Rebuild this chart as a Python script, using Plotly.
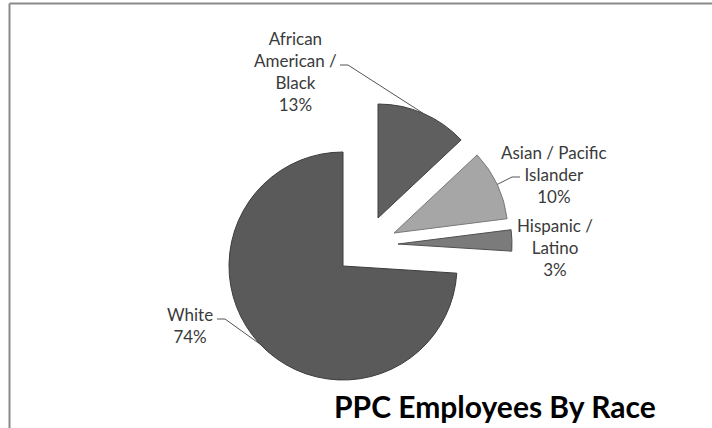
import math
import plotly.graph_objects as go

# ---- data ----
labels = ["African American / Black", "Asian / Pacific Islander", "Hispanic / Latino", "White"]
label_text = ["African<br>American /<br>Black", "Asian / Pacific<br>Islander", "Hispanic /<br>Latino", "White"]
values = [13, 10, 3, 74]
title_text = "PPC Employees By Race"

# ---- layout / style (pixels) ----
W, H = 712, 428
R = 114
CX, CY = 343, 266
explode = [(35, -48), (51, -33), (55, -22), (0, 0)]
colors = ["#5f5f5f", "#a6a6a6", "#7b7b7b", "#5a5a5a"]
edge = ["#3f3f3f", "#7a7a7a", "#505050", "#3c3c3c"]
label_pos = [(295, 71), (554, 174), (555, 247), (190, 325)]
# leader: (start of tick x, tick end x, y) or None
leaders = [(340, 348, 65), (520, 512, 177), None, (217, 225, 319)]
font_family = "Lato"

def px(x):
    return x / W

def py(y):
    return 1 - y / H

fig = go.Figure()
total = sum(values)
cum = 0
mids = []
for v in values:
    mids.append((cum + v / 2) / total * 360)
    cum += v

draw_order = [3, 0, 1, 2]
for i in draw_order:
    dx, dy = explode[i]
    cx, cy = CX + dx, CY + dy
    cols = ["rgba(0,0,0,0)"] * len(values)
    cols[i] = colors[i]
    lw = [0] * len(values)
    lw[i] = 1
    lc = ["rgba(0,0,0,0)"] * len(values)
    lc[i] = edge[i]
    fig.add_trace(go.Pie(
        labels=labels, values=values, sort=False, direction="clockwise", rotation=0,
        marker=dict(colors=cols, line=dict(color=lc, width=lw)),
        textinfo="none", hoverinfo="skip", showlegend=False,
        domain=dict(x=[px(cx - R), px(cx + R)], y=[py(cy + R), py(cy - R)]),
    ))

annotations = []
shapes = []
for i, (lx, ly) in enumerate(label_pos):
    pct = round(values[i] / total * 100)
    annotations.append(dict(
        x=px(lx), y=py(ly), xref="paper", yref="paper", showarrow=False,
        text=f"{label_text[i]}<br>{pct}%", align="center",
        font=dict(family=font_family, size=17, color="#3a3a3a"),
        xanchor="center", yanchor="middle",
    ))
    if leaders[i] is not None:
        x0, x1, yy = leaders[i]
        dx, dy = explode[i]
        a = math.radians(mids[i])
        ex = CX + dx + R * math.sin(a)
        ey = CY + dy - R * math.cos(a)
        shapes.append(dict(type="path", xref="paper", yref="paper",
                           path=f"M {px(x0)} {py(yy)} L {px(x1)} {py(yy)} L {px(ex)} {py(ey)}",
                           line=dict(color="#555555", width=1)))

annotations.append(dict(
    x=px(495), y=py(406), xref="paper", yref="paper", showarrow=False,
    text=f"<b>{title_text}</b>", font=dict(family=font_family, size=30, color="#000000"),
    xanchor="center", yanchor="middle",
))

# chart border (top and left visible)
shapes.append(dict(type="line", xref="paper", yref="paper", x0=px(9.5), x1=1, y0=py(3.5), y1=py(3.5),
                   line=dict(color="#8a8a8a", width=2)))
shapes.append(dict(type="line", xref="paper", yref="paper", x0=px(9.5), x1=px(9.5), y0=py(3.5), y1=0,
                   line=dict(color="#8a8a8a", width=2)))

fig.update_layout(
    width=W, height=H, margin=dict(l=0, r=0, t=0, b=0),
    paper_bgcolor="white", plot_bgcolor="white",
    annotations=annotations, shapes=shapes, showlegend=False,
)

fig.write_html(
    "out.html",
    config={"displayModeBar": False},
    post_script="document.body.style.margin='0';document.documentElement.style.overflow='hidden';document.body.style.overflow='hidden';",
)
